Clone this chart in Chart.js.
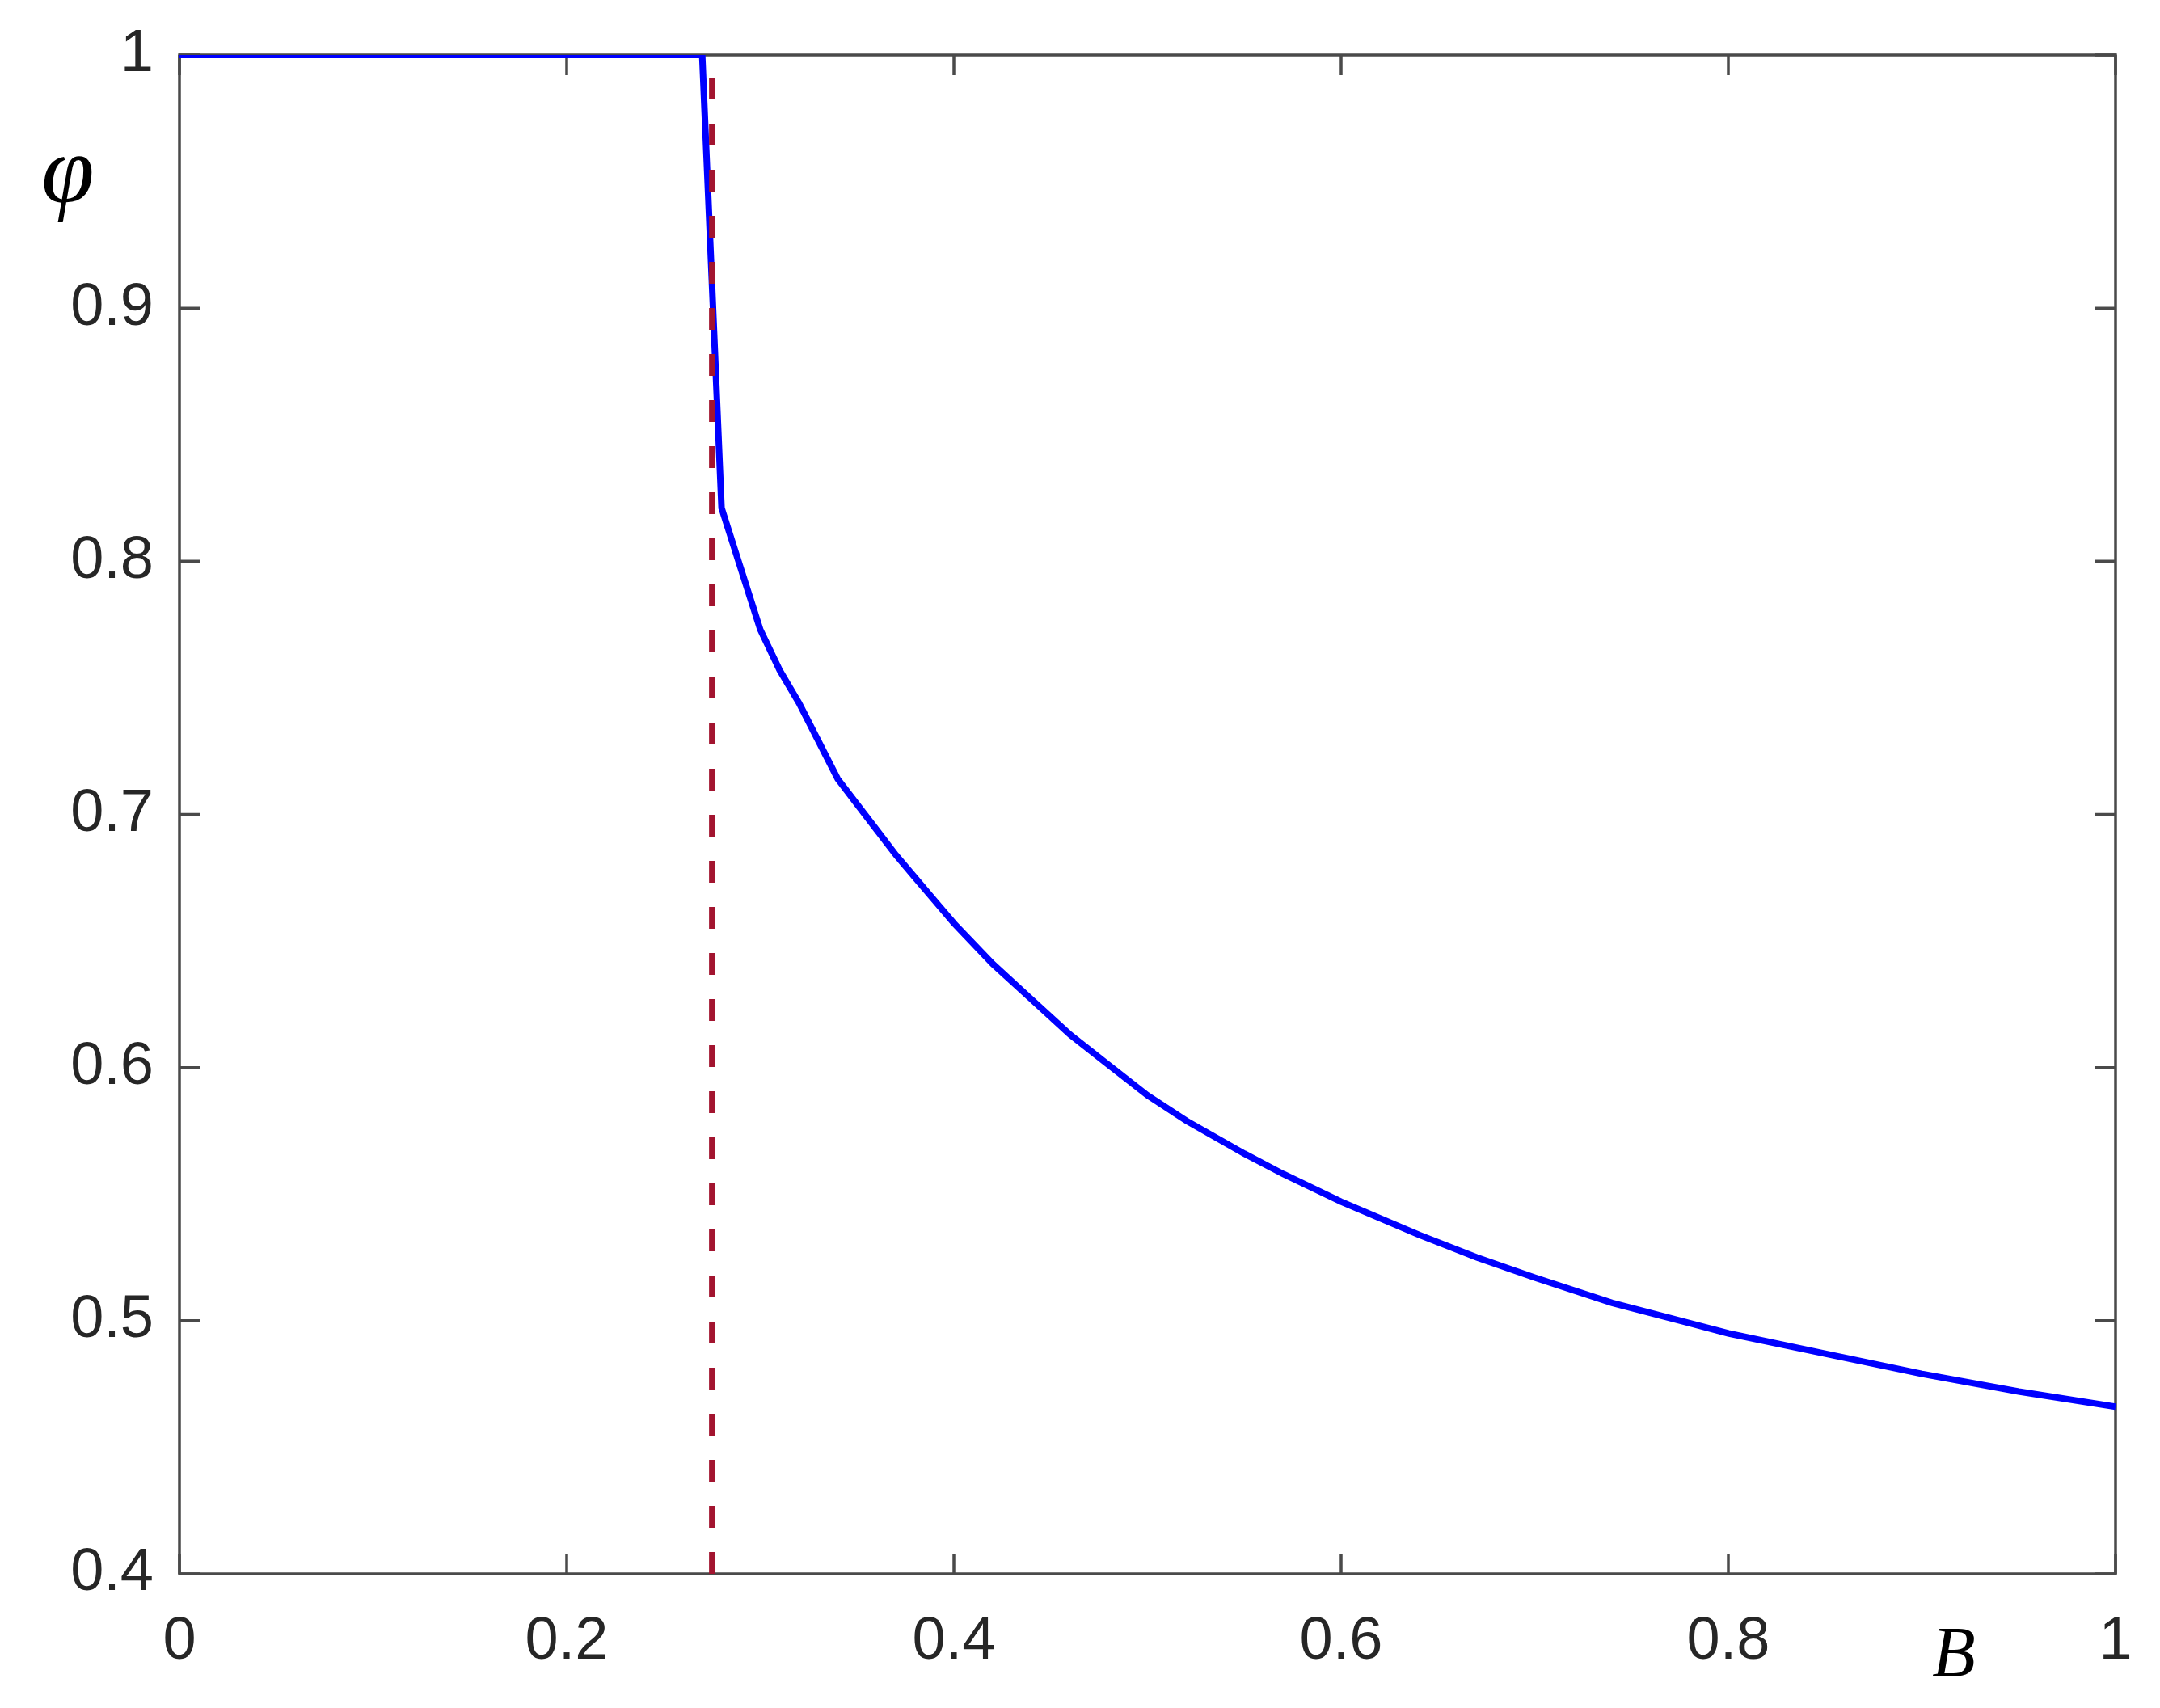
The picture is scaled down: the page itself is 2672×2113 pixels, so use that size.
<!DOCTYPE html>
<html><head><meta charset="utf-8">
<script src="https://cdn.jsdelivr.net/npm/chart.js@4/dist/chart.umd.min.js"></script>
<style>html,body{margin:0;padding:0;background:#fff;}#wrap{width:2672px;height:2113px;}</style>
</head><body><div id="wrap"><canvas id="c" width="2672" height="2113"></canvas></div>
<script>
// ---- data ----
const B   = [0, 0.27, 0.28, 0.29, 0.30, 0.31, 0.32, 0.33, 0.34, 0.35, 0.36, 0.37, 0.38, 0.39, 0.40, 0.42, 0.44, 0.46, 0.48, 0.50, 0.52, 0.55, 0.57, 0.60, 0.64, 0.67, 0.70, 0.74, 0.78, 0.80, 0.85, 0.90, 0.95, 1.00];
const phi = [1, 1, 0.821, 0.797, 0.773, 0.757, 0.744, 0.729, 0.714, 0.704, 0.694, 0.684, 0.675, 0.666, 0.657, 0.641, 0.627, 0.613, 0.601, 0.589, 0.579, 0.566, 0.558, 0.547, 0.534, 0.525, 0.517, 0.507, 0.499, 0.495, 0.487, 0.479, 0.472, 0.466];
const criticalB   = [0.275, 0.275];
const criticalPhi = [0.4, 1];
const xTicks = [0, 0.2, 0.4, 0.6, 0.8, 1];
const xTickLabels = ['0', '0.2', '0.4', '0.6', '0.8', '1'];
const yTicks = [0.4, 0.5, 0.6, 0.7, 0.8, 0.9, 1];
const yTickLabels = ['0.4', '0.5', '0.6', '0.7', '0.8', '0.9', '1'];
const xTitle = 'B';
const yTitle = 'φ';

const tickFont = {family: '"Liberation Sans", Arial, sans-serif', size: 74};
const textColor = '#262626';

const framePlugin = {
  id: 'frame',
  beforeDatasetsDraw(chart) {
    const {ctx, chartArea: a, scales} = chart;
    ctx.save();
    ctx.strokeStyle = '#4a4a4a';
    ctx.lineWidth = 3.5;
    ctx.strokeRect(a.left, a.top, a.right - a.left, a.bottom - a.top);
    const tl = 25;
    ctx.beginPath();
    scales.x.ticks.forEach(t => {
      const px = scales.x.getPixelForValue(t.value);
      ctx.moveTo(px, a.bottom); ctx.lineTo(px, a.bottom - tl);
      ctx.moveTo(px, a.top); ctx.lineTo(px, a.top + tl);
    });
    scales.y.ticks.forEach(t => {
      const py = scales.y.getPixelForValue(t.value);
      ctx.moveTo(a.left, py); ctx.lineTo(a.left + tl, py);
      ctx.moveTo(a.right, py); ctx.lineTo(a.right - tl, py);
    });
    ctx.stroke();
    ctx.restore();
  },
  afterDraw(chart) {
    const {ctx, chartArea: a} = chart;
    ctx.save();
    ctx.fillStyle = '#000';
    ctx.textAlign = 'center';
    ctx.textBaseline = 'alphabetic';
    ctx.font = 'italic 88px "Liberation Serif", "Times New Roman", serif';
    ctx.fillText(xTitle, a.right - 200, 2073);
    ctx.font = 'italic 118px "Liberation Serif", "Times New Roman", serif';
    ctx.fillText(yTitle, 84, 250);
    ctx.restore();
  }
};

new Chart(document.getElementById('c'), {
  type: 'scatter',
  data: {
    datasets: [
      {
        label: 'critical',
        data: criticalB.map((x, i) => ({x, y: criticalPhi[i]})),
        showLine: true,
        borderColor: '#A2142F',
        borderWidth: 7,
        borderDash: [27, 30],
        pointRadius: 0,
        order: 0
      },
      {
        label: 'phi',
        data: B.map((x, i) => ({x, y: phi[i]})),
        showLine: true,
        borderColor: '#0000FF',
        borderWidth: 8,
        pointRadius: 0,
        tension: 0,
        order: 1
      }
    ]
  },
  options: {
    responsive: false,
    animation: false,
    devicePixelRatio: 1,
    layout: {padding: {top: 68, right: 55, left: 0, bottom: 0}},
    plugins: {legend: {display: false}, tooltip: {enabled: false}},
    scales: {
      x: {
        type: 'linear', min: 0, max: 1,
        afterBuildTicks: s => { s.ticks = xTicks.map(v => ({value: v})); },
        afterFit: s => { s.height = 166; s.paddingLeft = 0; s.paddingRight = 0; },
        grid: {display: false, drawTicks: false, tickLength: 0},
        border: {display: false},
        ticks: {
          font: tickFont, color: textColor, padding: 40, maxRotation: 0,
          callback: (v, i) => xTickLabels[i]
        }
      },
      y: {
        type: 'linear', min: 0.4, max: 1,
        afterBuildTicks: s => { s.ticks = yTicks.map(v => ({value: v})); },
        afterFit: s => { s.width = 222; s.paddingTop = 0; s.paddingBottom = 0; },
        grid: {display: false, drawTicks: false, tickLength: 0},
        border: {display: false},
        ticks: {
          font: tickFont, color: textColor, padding: 32,
          callback: (v, i) => yTickLabels[i]
        }
      }
    }
  },
  plugins: [framePlugin]
});
</script>
</body></html>
